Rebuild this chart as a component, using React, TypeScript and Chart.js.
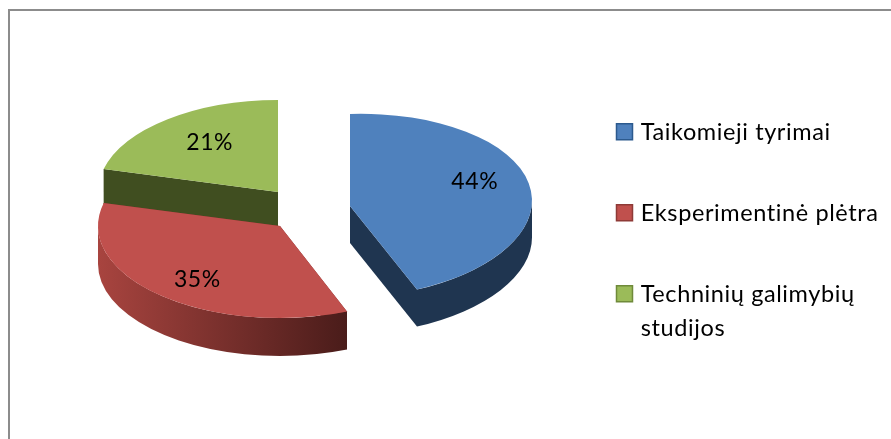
import React, { useEffect, useRef } from "react";
import { Chart, registerables } from "chart.js";

Chart.register(...registerables);

const categories = ["Taikomieji tyrimai", "Eksperimentinė plėtra", ["Techninių galimybių", "studijos"]];
const shares = [44, 35, 21];

const topColors = ["#4F81BD", "#C0504D", "#9BBB59"];
const wallColors = ["#1F3550", "#7A2F2C", "#404E20"];
const legendEdge = ["#2C5A8E", "#8E3A37", "#6F8A3A"];
const rimStops = [["#1F3550", "#1F3550"], ["#A8443F", "#4A1C1A"], ["#404E20", "#404E20"]];
const centres = [[350, 206], [280, 226], [278, 192]];
const depths = [37, 38, 35];
const skews = [-0.03, 0, 0];
const radiiX = [182, 182, 180];
const labelNudge = [[-4, -12], [4, 4], [12, 3]];
const RY = 92;
const FONT = "Lato, 'Open Sans', sans-serif";

const pie3d = {
  id: "pie3d",
  afterLayout(chart: any) {
    const l = chart.legend;
    const pad = chart.options.plugins.legend.labels.padding;
    l.left = 616 - pad;
    l.right = 891;
    l.top = 121 - pad;
    l.bottom = 439;
    l.width = l.right - l.left;
    l.height = l.bottom - l.top;
  },
  beforeDraw(chart: any) {
    chart.ctx.letterSpacing = "0.6px";
  },
  beforeDatasetsDraw(chart: any) {
    const ctx = chart.ctx;
    const arcs = chart.getDatasetMeta(0).data;
    // back to front
    [2, 1, 0].forEach((i) => {
      const el = arcs[i];
      const [cx, cy] = centres[i];
      const d = depths[i];
      const RX = radiiX[i];
      const a0 = el.startAngle;
      const a1 = el.endAngle;
      ctx.save();
      ctx.translate(cx, cy);
      ctx.transform(1, skews[i], 0, 1, 0, 0);
      // radial walls
      ctx.fillStyle = wallColors[i];
      [a0, a1].forEach((a: number) => {
        const px = RX * Math.cos(a);
        const py = RY * Math.sin(a);
        ctx.beginPath();
        ctx.moveTo(0, 0);
        ctx.lineTo(px, py);
        ctx.lineTo(px, py + d);
        ctx.lineTo(0, d);
        ctx.closePath();
        ctx.fill();
      });
      // outer rim, lower half only
      const TAU = Math.PI * 2;
      for (const [lo, hi] of [[0, Math.PI], [TAU, TAU + Math.PI]]) {
        const s = Math.max(a0, lo);
        const e = Math.min(a1, hi);
        if (e <= s) continue;
        const g = ctx.createLinearGradient(RX * Math.cos(e), 0, RX * Math.cos(s), 0);
        g.addColorStop(0, rimStops[i][0]);
        g.addColorStop(1, rimStops[i][1]);
        ctx.fillStyle = g;
        ctx.beginPath();
        ctx.ellipse(0, 0, RX, RY, 0, s, e);
        ctx.ellipse(0, d, RX, RY, 0, e, s, true);
        ctx.closePath();
        ctx.fill();
      }
      // top surface: the library's own arc, laid flat
      const r = el.outerRadius;
      ctx.scale(RX / r, RY / r);
      ctx.translate(-el.x, -el.y);
      el.draw(ctx);
      ctx.restore();
    });
    return false;
  },
  afterDraw(chart: any) {
    const ctx = chart.ctx;
    const arcs = chart.getDatasetMeta(0).data;
    ctx.save();
    ctx.font = `23px ${FONT}`;
    ctx.fillStyle = "#000";
    ctx.textAlign = "center";
    ctx.textBaseline = "middle";
    arcs.forEach((el: any, i: number) => {
      const mid = (el.startAngle + el.endAngle) / 2;
      const x = centres[i][0] + 182 * 0.72 * Math.cos(mid) + labelNudge[i][0];
      const y = centres[i][1] + RY * 0.72 * Math.sin(mid) + labelNudge[i][1];
      ctx.fillText(`${shares[i]}%`, x, y);
    });
    chart.legend.legendHitBoxes.forEach((h: any, i: number) => {
      const y = i === 2 ? h.top + 11.75 - 9 : h.top + h.height / 2 - 9;
      ctx.fillStyle = topColors[i];
      ctx.strokeStyle = legendEdge[i];
      ctx.lineWidth = 1.5;
      ctx.fillRect(616.5, y, 16, 16);
      ctx.strokeRect(616.5, y, 16, 16);
    });
    // frame of the original picture, open on the right and at the bottom
    ctx.strokeStyle = "#8C8C8C";
    ctx.lineWidth = 2;
    ctx.beginPath();
    ctx.moveTo(9, 439);
    ctx.lineTo(9, 10);
    ctx.lineTo(891, 10);
    ctx.stroke();
    ctx.restore();
  },
};

export default function App() {
  const ref = useRef<HTMLCanvasElement>(null);
  useEffect(() => {
    const chart = new Chart(ref.current as HTMLCanvasElement, {
      type: "pie",
      data: {
        labels: categories as any,
        datasets: [{ data: shares, backgroundColor: topColors, borderWidth: 0 }],
      },
      options: {
        responsive: false,
        animation: false,
        plugins: {
          tooltip: { enabled: false },
          title: { display: false },
          legend: {
            display: true,
            position: "right",
            align: "start",
            labels: {
              boxWidth: 13,
              boxHeight: 13,
              padding: 57.5,
              color: "#000",
              font: { size: 23.5, family: FONT, lineHeight: 1.43 },
              generateLabels: (c: any) =>
                (c.data.labels as any[]).map((text, i) => ({
                  text,
                  fillStyle: topColors[i],
                  strokeStyle: topColors[i],
                  lineWidth: 0,
                  index: i,
                  hidden: false,
                })),
            },
          },
        },
      } as any,
      plugins: [pie3d as any],
    });
    return () => chart.destroy();
  }, []);
  return (
    <div style={{ position: "fixed", left: 0, top: 0, width: 891, height: 439, background: "#fff" }}>
      <canvas ref={ref} width={891} height={439} style={{ display: "block" }} />
    </div>
  );
}
